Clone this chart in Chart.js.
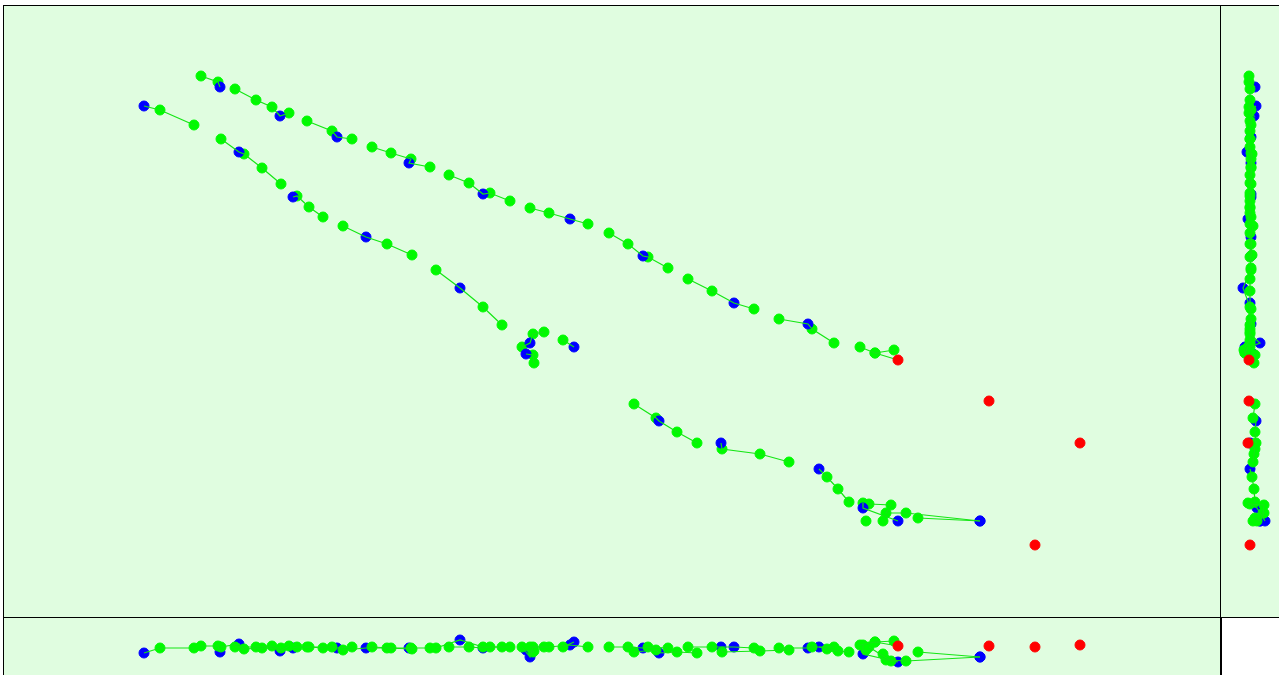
<!DOCTYPE html>
<html>
<head>
<meta charset="utf-8">
<script src="https://cdn.jsdelivr.net/npm/chart.js@4/dist/chart.umd.min.js"></script>
<style>
  html, body { margin: 0; padding: 0; background: #fff; width: 1279px; height: 675px; overflow: hidden; }
  .panel { position: absolute; background: #e0fde0; box-sizing: border-box; overflow: hidden; }
  .panel canvas { position: absolute; left: 0; top: 0; }
</style>
</head>
<body>
<!-- top view (x, y), side view (z, y), front view (x, z) -->
<div class="panel" style="left:3px; top:5px; width:1218px; height:613px; border:1px solid #000;">
  <canvas id="viewXY" width="1216" height="611"></canvas>
</div>
<div class="panel" style="left:1220px; top:5px; width:80px; height:613px; border-top:1px solid #000; border-left:1px solid #000; border-bottom:1px solid #000;">
  <canvas id="viewZY" width="58" height="611"></canvas>
</div>
<div class="panel" style="left:3px; top:617px; width:1219px; height:80px; border-top:1px solid #000; border-left:1px solid #000; border-right:2px solid #000;">
  <canvas id="viewXZ" width="1216" height="57"></canvas>
</div>

<script>
// Track samples: each segment is a connected run of [x, y, z, kind]
// kind: 'g' = estimated position, 'b' = observation, 'r' = end marker
const trackA = [
  [[201,76,29,'g'],[218,82,29,'g'],[220,87,35,'b']],
  [[235,89,30,'g'],[256,100,30,'g'],[272,107,29,'g'],[280,116,34,'b'],[289,113,29,'g']],
  [[307,121,30,'g'],[332,131,30,'g'],[337,137,31,'b'],[352,139,30,'g']],
  [[372,147,30,'g'],[391,153,31,'g'],[411,159,31,'g'],[409,163,31,'b'],[430,167,31,'g']],
  [[449,175,30,'g'],[469,183,30,'g'],[483,194,31,'b'],[490,193,30,'g'],[510,201,30,'g']],
  [[530,208,30,'g'],[549,213,30,'g'],[570,219,28,'b'],[588,224,30,'g']],
  [[609,233,30,'g'],[628,244,30,'g'],[643,256,31,'b'],[648,257,30,'g'],[668,268,31,'g']],
  [[688,279,30,'g'],[712,291,30,'g'],[734,303,30,'b'],[754,309,31,'g']],
  [[779,319,31,'g'],[808,324,31,'b'],[812,329,30,'g'],[834,343,30,'g']],
  [[860,347,28,'g'],[875,353,25,'g'],[898,360,29,'r']],
  [[875,353,25,'g'],[894,350,24,'g']]
];

const trackB = [
  [[144,106,36,'b'],[160,110,31,'g'],[194,125,31,'g']],
  [[221,139,30,'g'],[239,152,27,'b'],[244,154,32,'g'],[262,168,31,'g'],[281,184,31,'g']],
  [[293,197,31,'b'],[297,196,30,'g'],[309,207,30,'g'],[323,217,31,'g']],
  [[343,226,33,'g'],[366,237,31,'b'],[387,244,31,'g'],[412,255,32,'g']],
  [[436,270,31,'g'],[460,288,23,'b'],[483,307,30,'g'],[502,325,30,'g']],
  [[522,347,30,'g'],[530,343,40,'b'],[533,334,30,'g'],[544,332,30,'g']],
  [[526,354,33,'b'],[533,355,35,'g'],[534,363,34,'g']],
  [[563,340,30,'g'],[574,347,25,'b']]
];

const trackC = [
  [[634,404,35,'g'],[656,418,33,'g'],[659,421,36,'b'],[677,432,35,'g'],[697,443,36,'g']],
  [[721,443,30,'b'],[722,449,35,'g'],[760,454,34,'g'],[789,462,33,'g']],
  [[819,469,30,'b'],[827,477,32,'g'],[838,489,34,'g'],[849,502,35,'g']],
  [[863,503,28,'g'],[863,508,37,'b'],[898,521,45,'b']],
  [[869,504,30,'g'],[891,505,44,'g'],[886,513,43,'g'],[906,513,44,'g'],[980,521,40,'b']],
  [[918,518,35,'g'],[980,521,40,'b']]
];

const looseGreen = [[866,521,33],[883,521,37]];
const redDots = [[989,401,29],[1080,443,28],[1035,545,30]];

// Shared view extents
const X_RANGE = [4, 1220];
const Y_RANGE = [6, 617];
const Z_SIDE = [1, 59];
const Z_FRONT = [1, 58];

const COLORS = { g: '#00fa00', b: '#0000ff', r: '#ff0000', line: '#14e614' };

const segments = [...trackA, ...trackB, ...trackC];

function dotsOf(kind) {
  const pts = [];
  segments.forEach(seg => seg.forEach(p => { if (p[3] === kind) pts.push([p[0], p[1], p[2]]); }));
  if (kind === 'g') pts.push(...looseGreen);
  if (kind === 'r') pts.push(...redDots);
  return pts;
}

function makeView(canvasId, project, xRange, yRange, yReverse, blueOnTop) {
  const datasets = [];
  segments.forEach(seg => {
    datasets.push({
      data: seg.map(project),
      showLine: true,
      borderColor: COLORS.line,
      borderWidth: 1.2,
      pointRadius: 0,
      pointHoverRadius: 0,
      order: 2
    });
  });
  const dot = (kind, order) => ({
    data: dotsOf(kind).map(project),
    showLine: false,
    pointRadius: 5,
    pointBorderWidth: 1,
    pointBackgroundColor: COLORS[kind],
    pointBorderColor: COLORS[kind],
    pointHoverRadius: 5,
    order
  });
  datasets.push(dot('g', blueOnTop ? 4 : 3));
  datasets.push(dot('b', blueOnTop ? 3 : 4));
  datasets.push(dot('r', 1));

  new Chart(document.getElementById(canvasId), {
    type: 'scatter',
    data: { datasets },
    options: {
      responsive: false,
      devicePixelRatio: 1,
      animation: false,
      events: [],
      layout: { padding: 0, autoPadding: false },
      plugins: { legend: { display: false }, tooltip: { enabled: false } },
      scales: {
        x: { type: 'linear', display: false, min: xRange[0], max: xRange[1] },
        y: { type: 'linear', display: false, min: yRange[0], max: yRange[1], reverse: yReverse }
      }
    }
  });
}

makeView('viewXY', p => ({ x: p[0], y: p[1] }), X_RANGE, Y_RANGE, true, true);
makeView('viewZY', p => ({ x: p[2], y: p[1] }), Z_SIDE, Y_RANGE, true, false);
makeView('viewXZ', p => ({ x: p[0], y: p[2] }), X_RANGE, Z_FRONT, true, false);
</script>
</body>
</html>
